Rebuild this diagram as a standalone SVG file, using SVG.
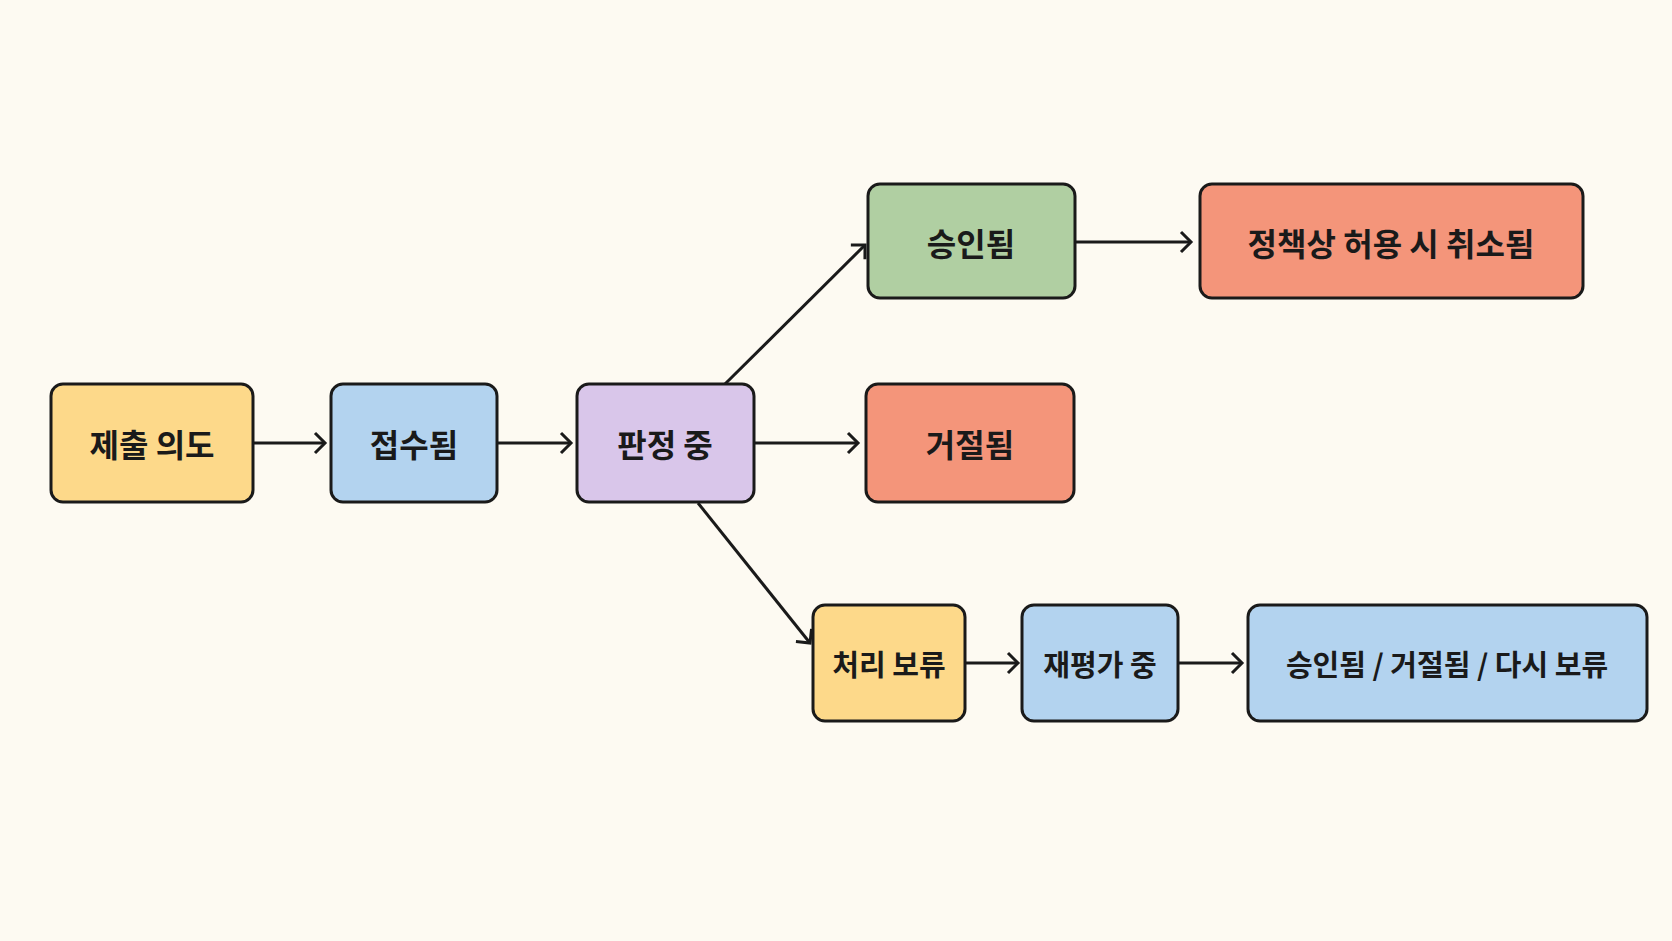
<svg xmlns="http://www.w3.org/2000/svg" width="1672" height="941" viewBox="0 0 1672 941">
<style>
.n{stroke:#1a1a1a;stroke-width:3}
.t{font-family:"Noto Sans CJK KR","Noto Sans",sans-serif;font-weight:bold;font-size:32px;fill:#1a1a1a;text-anchor:middle;dominant-baseline:central}
.s{font-size:29px}
.c{stroke:#1a1a1a;stroke-width:3;fill:none;marker-end:url(#a)}
</style>
<defs><marker id="a" markerUnits="userSpaceOnUse" markerWidth="24" markerHeight="24" refX="14" refY="12" orient="auto"><path d="M4,2 L14,12 L4,22" fill="none" stroke="#1a1a1a" stroke-width="3"/></marker></defs>
<rect width="1672" height="941" fill="#FDFAF2"/>
<g id="connectors">
<line class="c" x1="253" y1="443" x2="325" y2="443"/>
<line class="c" x1="497" y1="443" x2="571" y2="443"/>
<line class="c" x1="725" y1="384" x2="865" y2="245"/>
<line class="c" x1="754" y1="443" x2="858" y2="443"/>
<line class="c" x1="698" y1="503" x2="810" y2="643"/>
<line class="c" x1="1075" y1="242" x2="1191" y2="242"/>
<line class="c" x1="965" y1="663" x2="1018" y2="663"/>
<line class="c" x1="1178" y1="663" x2="1242" y2="663"/>
</g>
<g id="n1"><rect class="n" x="51" y="384" width="202" height="118" rx="12" fill="#FDD98A"/><text class="t" x="152" y="443">제출 의도</text></g>
<g id="n2"><rect class="n" x="331" y="384" width="166" height="118" rx="12" fill="#B3D3EF"/><text class="t" x="414" y="443">접수됨</text></g>
<g id="n3"><rect class="n" x="577" y="384" width="177" height="118" rx="12" fill="#D9C6EA"/><text class="t" x="665" y="443">판정 중</text></g>
<g id="n4"><rect class="n" x="868" y="184" width="207" height="114" rx="12" fill="#B0CFA2"/><text class="t" x="971" y="242">승인됨</text></g>
<g id="n5"><rect class="n" x="1200" y="184" width="383" height="114" rx="12" fill="#F4957A"/><text class="t" x="1391" y="242">정책상 허용 시 취소됨</text></g>
<g id="n6"><rect class="n" x="866" y="384" width="208" height="118" rx="12" fill="#F4957A"/><text class="t" x="970" y="443">거절됨</text></g>
<g id="n7"><rect class="n" x="813" y="605" width="152" height="116" rx="12" fill="#FDD98A"/><text class="t s" x="889" y="663">처리 보류</text></g>
<g id="n8"><rect class="n" x="1022" y="605" width="156" height="116" rx="12" fill="#B3D3EF"/><text class="t s" x="1100" y="663">재평가 중</text></g>
<g id="n9"><rect class="n" x="1248" y="605" width="399" height="116" rx="12" fill="#B3D3EF"/><text class="t s" x="1447" y="663">승인됨 / 거절됨 / 다시 보류</text></g>
</svg>
